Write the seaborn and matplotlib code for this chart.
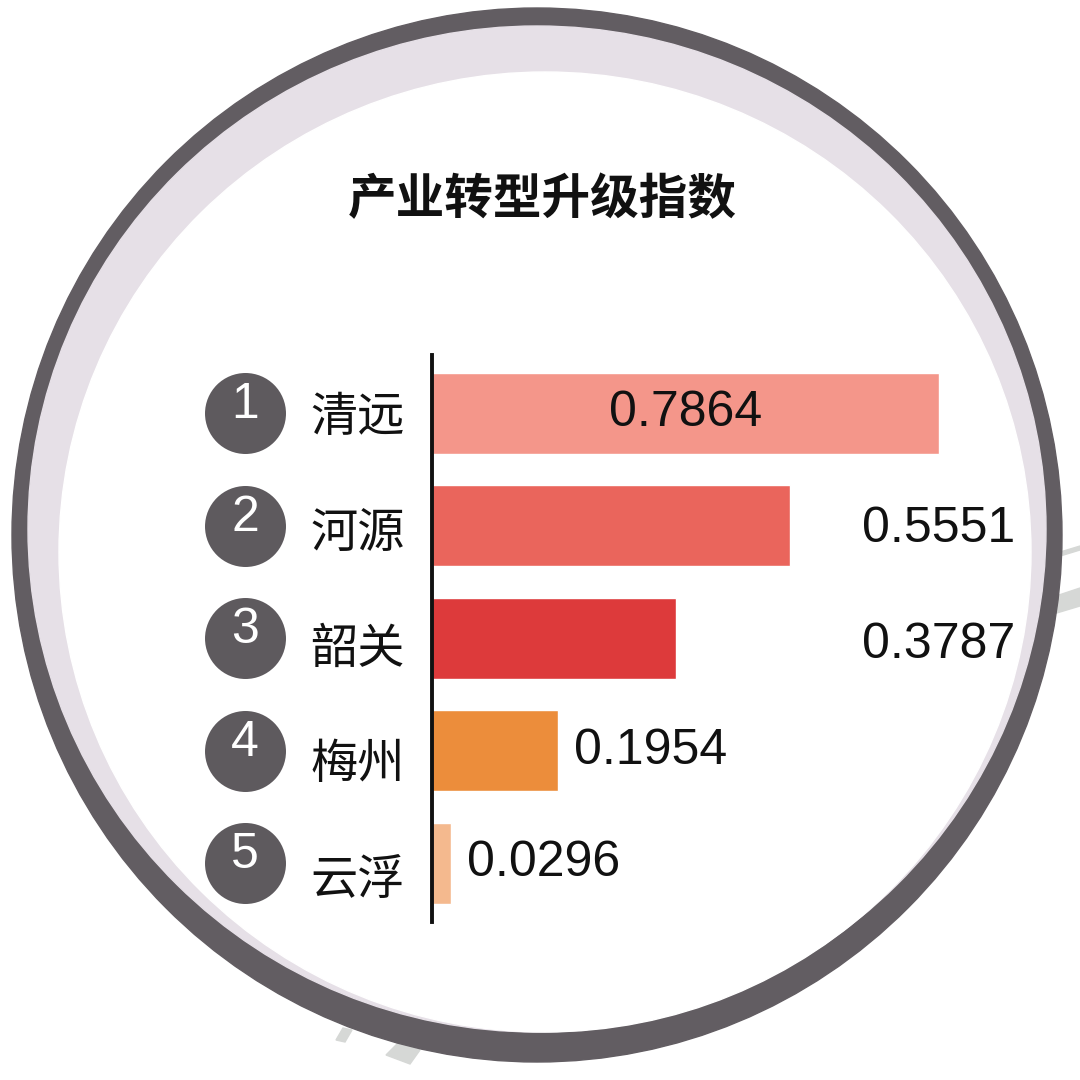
import seaborn as sns
import matplotlib.pyplot as plt
from matplotlib.patches import Ellipse, Polygon
import pandas as pd

cities = ["清远", "河源", "韶关", "梅州", "云浮"]
ranks = ["1", "2", "3", "4", "5"]
values = [0.7864, 0.5551, 0.3787, 0.1954, 0.0296]
value_labels = ["0.7864", "0.5551", "0.3787", "0.1954", "0.0296"]
bar_colors = ["#F4968A", "#EA655C", "#DD3A3B", "#EC8D3B", "#F4B98E"]
title = "产业转型升级指数"

sns.set_style("white")
plt.rcParams['font.family'] = ['Liberation Sans', 'Noto Sans CJK SC', 'DejaVu Sans']
cjk = ['Noto Sans CJK SC', 'DejaVu Sans']

df = pd.DataFrame({"city": cities, "value": values})

fig = plt.figure(figsize=(10.8, 10.8), dpi=100)
fig.patch.set_facecolor("white")

# background: ring, lavender crescent, little grey strokes, title (pixel coords)
bg = fig.add_axes([0, 0, 1, 1])
bg.set_xlim(0, 1080)
bg.set_ylim(1080, 0)
bg.axis("off")
bg.add_patch(Ellipse((537, 535), 1050, 1054, color="#625D62", zorder=1))
bg.add_patch(Ellipse((537, 529), 1018, 1006, color="#E6E0E7", zorder=2))
bg.add_patch(Ellipse((545, 552), 972, 960, color="white", zorder=3))
stroke = "#D6D8D6"
bg.add_patch(Polygon([(1057, 553), (1080, 546), (1080, 550), (1057, 557)], color=stroke, zorder=0))
bg.add_patch(Polygon([(1050, 598), (1080, 588), (1080, 606), (1050, 615)], color=stroke, zorder=0))
bg.add_patch(Polygon([(336, 1040), (343, 1028), (352, 1030), (345, 1042)], color=stroke, zorder=0))
bg.add_patch(Polygon([(386, 1055), (398, 1043), (420, 1050), (410, 1064)], color=stroke, zorder=0))
bg.text(542, 200, title, ha="center", va="center", fontsize=35, fontweight="bold",
        family=cjk, color="#111111", zorder=5)

# bar chart
ax = fig.add_axes([432 / 1080, (1080 - 922) / 1080, 645 / 1080, 567 / 1080])
ax.patch.set_alpha(0)
sns.barplot(data=df, x="value", y="city", hue="city", order=cities, hue_order=cities,
            palette=bar_colors, orient="h", width=0.72, legend=False, saturation=1,
            ax=ax)
ax.set_xlim(0, 1)
ax.set_ylim(4.524, -0.516)
ax.set_xlabel("")
ax.set_ylabel("")
for s in ["top", "right", "bottom"]:
    ax.spines[s].set_visible(False)
ax.spines["left"].set_linewidth(2.8)
ax.spines["left"].set_color("#111111")
ax.set_yticks(range(len(cities)))
ax.tick_params(axis="y", direction="in", length=11, width=2.8, color="#111111",
               labelleft=False)
ax.tick_params(axis="x", bottom=False, labelbottom=False)

# rank badges and city names
badge_x = -0.29
ax.scatter([badge_x] * len(ranks), range(len(ranks)), s=3400, color="#5E5A5E",
           clip_on=False, zorder=4, linewidths=0)
for i, (r, c) in enumerate(zip(ranks, cities)):
    ax.text(badge_x, i - 0.07, r, ha="center", va="center", fontsize=36,
            color="white", clip_on=False, zorder=5)
    ax.text(-0.115, i + 0.04 + 0.03 * i, c, ha="center", va="center", fontsize=34,
            family=cjk, color="#111111", clip_on=False)

# value labels
for i, (v, lab) in enumerate(zip(values, value_labels)):
    if i == 0:
        ax.text(v / 2, i, lab, ha="center", va="center", fontsize=36, color="#111111")
    elif i in (1, 2):
        ax.text(0.667, i + 0.03 * i, lab, ha="left", va="center", fontsize=36,
                color="#111111", clip_on=False)
    else:
        ax.text(v + 0.025, i, lab, ha="left", va="center", fontsize=36, color="#111111")

fig.savefig("out.png", dpi=100, facecolor="white")
